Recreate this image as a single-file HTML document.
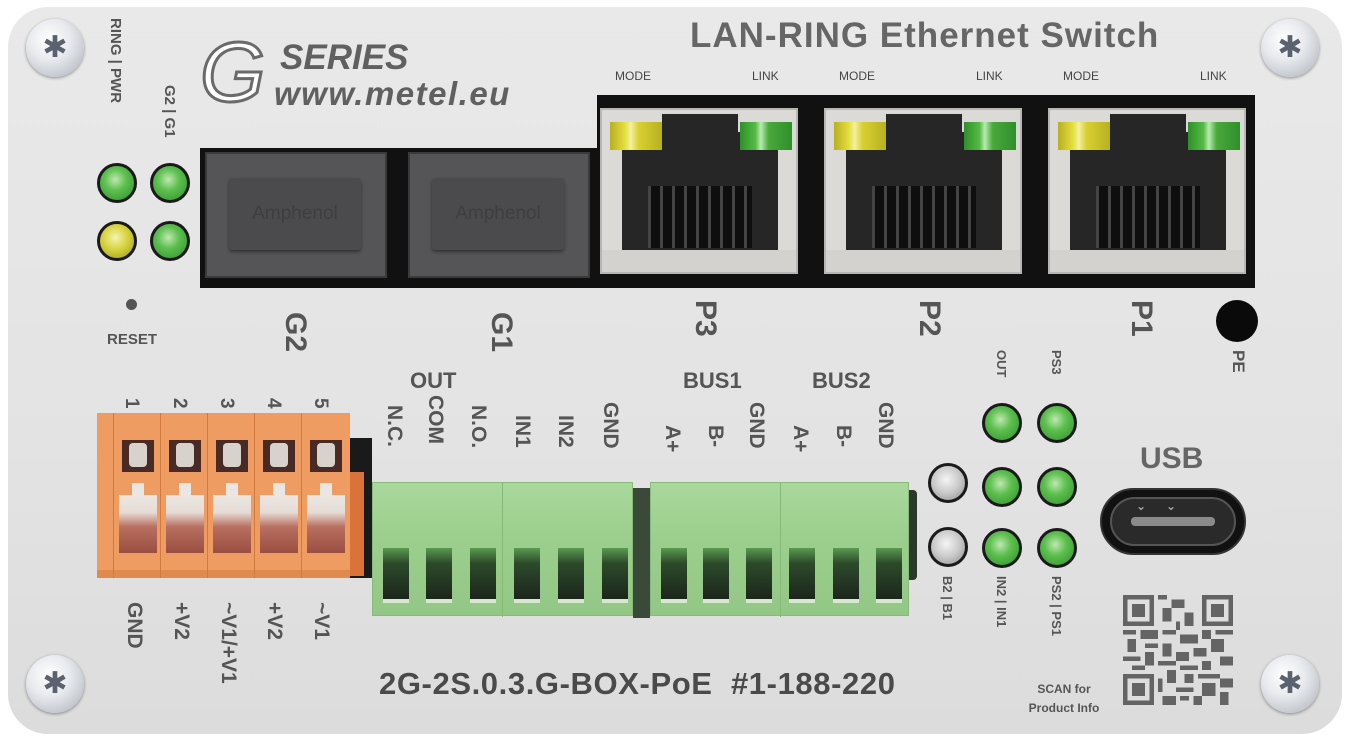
<!DOCTYPE html>
<html><head><meta charset="utf-8">
<style>
*{margin:0;padding:0;box-sizing:border-box}
body{width:1350px;height:741px;background:#fff;position:relative;overflow:hidden;font-family:"Liberation Sans","DejaVu Sans",sans-serif;color:#555}
.a{position:absolute}
.v{position:absolute;writing-mode:vertical-rl;font-weight:bold;white-space:nowrap;line-height:1}
.t{position:absolute;font-weight:bold;white-space:nowrap;line-height:1}
.led{position:absolute;border-radius:50%;border:3px solid #1a1a1a}
.g{background:radial-gradient(circle at 45% 40%,#bfe8b0 0%,#5cbf4e 40%,#2f8f2a 100%)}
.y{background:radial-gradient(circle at 45% 40%,#f4f4b0 0%,#d6d23c 45%,#9a9420 100%)}
.w{background:radial-gradient(circle at 45% 40%,#f4f4f4 0%,#c8c8c8 50%,#8a8a8a 100%)}
.screw{position:absolute;width:58px;height:58px;border-radius:50%;background:radial-gradient(circle at 40% 35%,#ffffff 0%,#e8eaee 40%,#aab0b8 100%);box-shadow:0 1px 3px rgba(0,0,0,.4)}
.screw:after{content:"✱";position:absolute;left:0;top:0;width:58px;height:58px;text-align:center;line-height:58px;font-size:30px;color:#5a6270}
.amph{position:absolute;background:#555557;border:2px solid #3a3a3a}
.amph div{position:absolute;left:22px;top:24px;width:132px;height:72px;background:#4b4b4d;border-radius:3px;box-shadow:0 2px 3px rgba(0,0,0,.4);color:#3e3e40;font-size:19px;text-align:center;line-height:72px}
.port{position:absolute;width:198px;height:166px;background:#dcdad6;border:2px solid #b8b6b2}
.port .in{position:absolute;left:20px;top:22px;width:156px;height:118px;background:#262626}
.port .top{position:absolute;left:60px;top:4px;width:76px;height:18px;background:#262626}
.port .ly{position:absolute;left:8px;top:12px;width:52px;height:28px;background:linear-gradient(90deg,#b8b020,#e6e040 30%,#f4f0a0 40%,#d8d030 55%,#b8b020)}
.port .lg{position:absolute;left:138px;top:12px;width:52px;height:28px;background:linear-gradient(90deg,#2f8f2a,#55bb45 30%,#b8ecb0 40%,#4aa83c 55%,#2f8f2a)}
.port .pins{position:absolute;left:46px;top:76px;width:104px;height:62px;background:repeating-linear-gradient(90deg,#444 0 3px,#0e0e0e 3px 12px)}
.port .bot{position:absolute;left:0;bottom:0;width:194px;height:22px;background:#d4d2ce}
.oc{position:absolute;top:413px;width:47px;height:165px;border-left:1px solid #d07a40}
.oc .h{position:absolute;left:8px;top:27px;width:32px;height:32px;background:#4a2a24;}
.oc .h i{position:absolute;left:7px;top:3px;width:18px;height:24px;background:#d8d2cc;border-radius:4px}
.oc .wdw{position:absolute;left:5px;top:82px;width:38px;height:58px;background:linear-gradient(180deg,#ebe6e2 0%,#e6dcd6 30%,#b87060 55%,#9a4e40 100%)}
.oc .wdw:before{content:"";position:absolute;left:13px;top:-12px;width:12px;height:14px;background:#ebe6e2}
.gb{position:absolute;top:482px;height:134px;background:linear-gradient(180deg,#a9d89c 0%,#9ccf8e 40%,#93c785 100%);border:1px solid #88bb7a}
.sl{position:absolute;top:65px;width:26px;height:55px;background:linear-gradient(180deg,#5a9a50 0%,#2c4a2a 30%,#1c261c 100%);border-bottom:4px solid #d8e8d0}
</style></head><body>

<div class="a" style="left:8px;top:7px;width:1334px;height:727px;background:linear-gradient(180deg,#e9e9e9 0%,#e3e3e3 60%,#dcdcdc 100%);border-radius:40px"></div>

<div class="screw" style="left:26px;top:19px"></div>
<div class="screw" style="left:1261px;top:19px"></div>
<div class="screw" style="left:26px;top:655px"></div>
<div class="screw" style="left:1261px;top:655px"></div>

<div class="t" style="left:200px;top:30px;font-size:84px;font-style:italic;font-weight:normal;color:#fff;-webkit-text-stroke:3px #6a6a6a;letter-spacing:-4px">G</div>
<div class="t" style="left:280px;top:40px;font-size:35px;font-style:italic;color:#606060">SERIES</div>
<div class="t" style="left:274px;top:77px;font-size:33px;font-style:italic;color:#606060;letter-spacing:1.5px">www.metel.eu</div>

<div class="t" style="left:690px;top:18px;font-size:35px;color:#666;letter-spacing:1px">LAN-RING Ethernet Switch</div>

<div class="v" style="left:108px;top:18px;font-size:15px">RING | PWR</div>
<div class="v" style="left:162px;top:85px;font-size:15px">G2 | G1</div>
<div class="led g" style="left:97px;top:163px;width:40px;height:40px"></div>
<div class="led g" style="left:150px;top:163px;width:40px;height:40px"></div>
<div class="led y" style="left:97px;top:221px;width:40px;height:40px"></div>
<div class="led g" style="left:150px;top:221px;width:40px;height:40px"></div>
<div class="a" style="left:126px;top:299px;width:11px;height:11px;border-radius:50%;background:#555"></div>
<div class="t" style="left:107px;top:332px;font-size:15px">RESET</div>

<div class="a" style="left:200px;top:148px;width:397px;height:140px;background:#111"></div>
<div class="amph" style="left:205px;top:152px;width:182px;height:126px"><div>Amphenol</div></div>
<div class="amph" style="left:408px;top:152px;width:182px;height:126px"><div>Amphenol</div></div>

<div class="a" style="left:597px;top:95px;width:658px;height:193px;background:#111"></div>
<div class="port" style="left:600px;top:108px"><div class="bot"></div><div class="in"></div><div class="top"></div><div class="pins"></div><div class="ly"></div><div class="lg"></div></div>
<div class="port" style="left:824px;top:108px"><div class="bot"></div><div class="in"></div><div class="top"></div><div class="pins"></div><div class="ly"></div><div class="lg"></div></div>
<div class="port" style="left:1048px;top:108px"><div class="bot"></div><div class="in"></div><div class="top"></div><div class="pins"></div><div class="ly"></div><div class="lg"></div></div>
<div class="t" style="left:615px;top:70px;font-size:12px;font-weight:normal;color:#444">MODE</div>
<div class="t" style="left:752px;top:70px;font-size:12px;font-weight:normal;color:#444">LINK</div>
<div class="t" style="left:839px;top:70px;font-size:12px;font-weight:normal;color:#444">MODE</div>
<div class="t" style="left:976px;top:70px;font-size:12px;font-weight:normal;color:#444">LINK</div>
<div class="t" style="left:1063px;top:70px;font-size:12px;font-weight:normal;color:#444">MODE</div>
<div class="t" style="left:1200px;top:70px;font-size:12px;font-weight:normal;color:#444">LINK</div>

<div class="v" style="left:280px;top:312px;font-size:30px">G2</div>
<div class="v" style="left:486px;top:312px;font-size:30px">G1</div>
<div class="v" style="left:690px;top:300px;font-size:30px">P3</div>
<div class="v" style="left:914px;top:300px;font-size:30px">P2</div>
<div class="v" style="left:1126px;top:300px;font-size:30px">P1</div>
<div class="a" style="left:1216px;top:300px;width:42px;height:42px;border-radius:50%;background:#0a0a0a"></div>
<div class="v" style="left:1230px;top:350px;font-size:17px">PE</div>

<div class="a" style="left:97px;top:413px;width:253px;height:165px;background:#ee9c62;border-bottom:8px solid #e08a50"></div>
<div class="oc" style="left:113px"><div class="h"><i></i></div><div class="wdw"></div></div>
<div class="oc" style="left:160px"><div class="h"><i></i></div><div class="wdw"></div></div>
<div class="oc" style="left:207px"><div class="h"><i></i></div><div class="wdw"></div></div>
<div class="oc" style="left:254px"><div class="h"><i></i></div><div class="wdw"></div></div>
<div class="oc" style="left:301px"><div class="h"><i></i></div><div class="wdw"></div></div>
<div class="a" style="left:350px;top:438px;width:22px;height:140px;background:#1a1a1a"></div>
<div class="a" style="left:350px;top:472px;width:14px;height:104px;background:#d9733a"></div>
<div class="v" style="left:122px;top:398px;font-size:19px">1</div>
<div class="v" style="left:170px;top:398px;font-size:19px">2</div>
<div class="v" style="left:217px;top:398px;font-size:19px">3</div>
<div class="v" style="left:264px;top:398px;font-size:19px">4</div>
<div class="v" style="left:311px;top:398px;font-size:19px">5</div>
<div class="v" style="left:124px;top:602px;font-size:21px">GND</div>
<div class="v" style="left:171px;top:602px;font-size:21px">+V2</div>
<div class="v" style="left:218px;top:602px;font-size:21px">~V1/+V1</div>
<div class="v" style="left:264px;top:602px;font-size:21px">+V2</div>
<div class="v" style="left:311px;top:602px;font-size:21px">~V1</div>

<div class="gb" style="left:372px;width:261px">
 <div class="a" style="left:129px;top:0;width:1px;height:134px;background:#86b878"></div>
 <div class="sl" style="left:10px"></div><div class="sl" style="left:53px"></div><div class="sl" style="left:97px"></div>
 <div class="sl" style="left:141px"></div><div class="sl" style="left:185px"></div><div class="sl" style="left:229px"></div>
</div>
<div class="a" style="left:633px;top:488px;width:17px;height:130px;background:#3a4a38"></div>
<div class="gb" style="left:650px;width:259px">
 <div class="a" style="left:129px;top:0;width:1px;height:134px;background:#86b878"></div>
 <div class="sl" style="left:10px"></div><div class="sl" style="left:52px"></div><div class="sl" style="left:95px"></div>
 <div class="sl" style="left:138px"></div><div class="sl" style="left:182px"></div><div class="sl" style="left:225px"></div>
</div>
<div class="a" style="left:909px;top:490px;width:8px;height:90px;background:#2a3a28;border-radius:0 4px 4px 0"></div>

<div class="t" style="left:410px;top:370px;font-size:22px">OUT</div>
<div class="t" style="left:683px;top:370px;font-size:22px">BUS1</div>
<div class="t" style="left:812px;top:370px;font-size:22px">BUS2</div>
<div class="v" style="left:384px;top:405px;font-size:21px">N.C.</div>
<div class="v" style="left:425px;top:395px;font-size:21px">COM</div>
<div class="v" style="left:468px;top:405px;font-size:21px">N.O.</div>
<div class="v" style="left:512px;top:415px;font-size:21px">IN1</div>
<div class="v" style="left:555px;top:415px;font-size:21px">IN2</div>
<div class="v" style="left:600px;top:402px;font-size:21px">GND</div>
<div class="v" style="left:662px;top:425px;font-size:21px">A+</div>
<div class="v" style="left:705px;top:425px;font-size:21px">B-</div>
<div class="v" style="left:746px;top:402px;font-size:21px">GND</div>
<div class="v" style="left:790px;top:425px;font-size:21px">A+</div>
<div class="v" style="left:833px;top:425px;font-size:21px">B-</div>
<div class="v" style="left:875px;top:402px;font-size:21px">GND</div>

<div class="t" style="left:379px;top:668px;font-size:31px;color:#4a4a4a;letter-spacing:0.6px">2G-2S.0.3.G-BOX-PoE&nbsp; #1-188-220</div>

<div class="v" style="left:995px;top:350px;font-size:13px">OUT</div>
<div class="v" style="left:1050px;top:350px;font-size:13px">PS3</div>
<div class="led w" style="left:928px;top:463px;width:40px;height:40px"></div>
<div class="led w" style="left:928px;top:527px;width:40px;height:40px"></div>
<div class="led g" style="left:982px;top:403px;width:40px;height:40px"></div>
<div class="led g" style="left:982px;top:467px;width:40px;height:40px"></div>
<div class="led g" style="left:982px;top:528px;width:40px;height:40px"></div>
<div class="led g" style="left:1037px;top:403px;width:40px;height:40px"></div>
<div class="led g" style="left:1037px;top:467px;width:40px;height:40px"></div>
<div class="led g" style="left:1037px;top:528px;width:40px;height:40px"></div>
<div class="v" style="left:941px;top:576px;font-size:13px">B2 | B1</div>
<div class="v" style="left:995px;top:576px;font-size:13px">IN2 | IN1</div>
<div class="v" style="left:1050px;top:576px;font-size:13px">PS2 | PS1</div>

<div class="t" style="left:1140px;top:444px;font-size:30px;color:#666">USB</div>
<div class="a" style="left:1100px;top:488px;width:146px;height:67px;border-radius:34px;background:#111;border:2px solid #333"></div>
<div class="a" style="left:1110px;top:497px;width:126px;height:49px;border-radius:25px;background:#2a2a2a;border:2px solid #555"></div>
<div class="a" style="left:1131px;top:517px;width:84px;height:9px;border-radius:4px;background:#8a8a8a"></div>
<div class="t" style="left:1136px;top:500px;font-size:12px;color:#aaa;letter-spacing:20px">⌄⌄</div>

<svg class="a" style="left:1123px;top:595px" width="110" height="110" viewBox="0 0 25 25" shape-rendering="crispEdges">
<g fill="#646464">
<path d="M0 0h7v7h-7zM1 1v5h5v-5zM2 2h3v3h-3z" fill-rule="evenodd"/>
<path d="M18 0h7v7h-7zM19 1v5h5v-5zM20 2h3v3h-3z" fill-rule="evenodd"/>
<path d="M0 18h7v7h-7zM1 19v5h5v-5zM2 20h3v3h-3z" fill-rule="evenodd"/>
<rect x="8" y="0" width="2" height="1"/><rect x="11" y="1" width="3" height="2"/><rect x="9" y="3" width="2" height="3"/><rect x="14" y="4" width="2" height="3"/><rect x="12" y="6" width="1" height="2"/>
<rect x="0" y="8" width="3" height="1"/><rect x="4" y="8" width="4" height="2"/><rect x="9" y="8" width="3" height="1"/><rect x="13" y="9" width="4" height="2"/><rect x="18" y="8" width="2" height="2"/><rect x="21" y="8" width="4" height="1"/>
<rect x="1" y="10" width="2" height="3"/><rect x="5" y="11" width="3" height="1"/><rect x="9" y="11" width="2" height="3"/><rect x="16" y="12" width="3" height="2"/><rect x="20" y="10" width="3" height="3"/>
<rect x="0" y="14" width="4" height="1"/><rect x="5" y="13" width="2" height="3"/><rect x="8" y="15" width="4" height="1"/><rect x="12" y="13" width="3" height="2"/><rect x="18" y="15" width="2" height="2"/><rect x="22" y="14" width="3" height="2"/>
<rect x="2" y="16" width="3" height="1"/><rect x="10" y="17" width="2" height="3"/><rect x="13" y="16" width="4" height="1"/><rect x="14" y="18" width="2" height="2"/><rect x="8" y="19" width="1" height="3"/>
<rect x="17" y="18" width="5" height="1"/><rect x="18" y="20" width="3" height="3"/><rect x="22" y="19" width="3" height="2"/><rect x="12" y="21" width="4" height="1"/><rect x="9" y="23" width="3" height="2"/><rect x="16" y="23" width="2" height="2"/><rect x="22" y="22" width="2" height="3"/><rect x="13" y="23" width="2" height="1"/>
</g></svg>
<div class="t" style="left:1028px;top:680px;font-size:12px;width:72px;text-align:center;line-height:19px">SCAN for<br>Product Info</div>

</body></html>
